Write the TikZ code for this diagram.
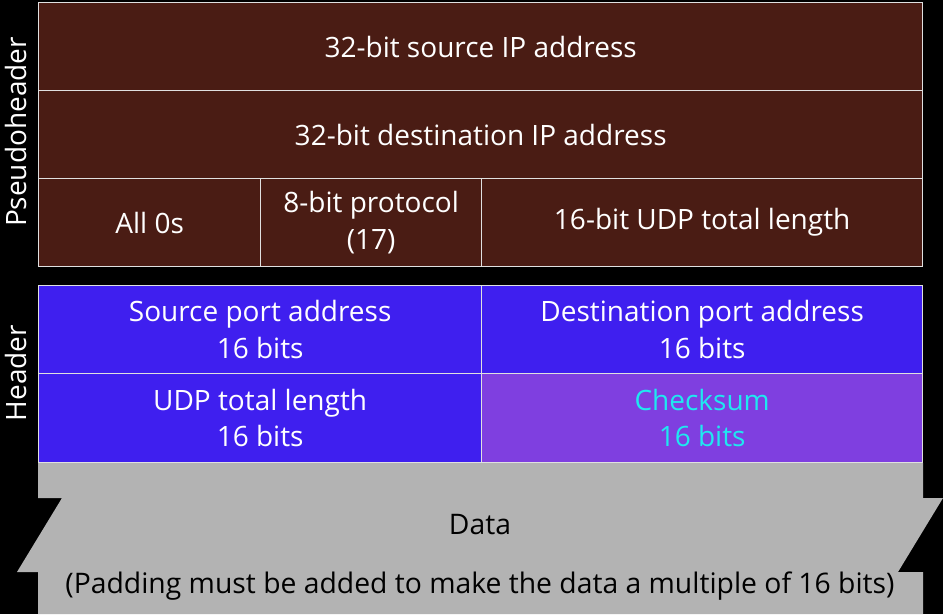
\documentclass[tikz,border=0pt]{standalone}
\usepackage{fontspec}
\setmainfont{Open Sans}
\definecolor{brownbg}{HTML}{4A1C14}
\definecolor{bluebg}{HTML}{3F1FEF}
\definecolor{purplebg}{HTML}{7F3FE0}
\definecolor{cyantext}{HTML}{1FE8F0}
\definecolor{graybg}{HTML}{B3B3B3}
\definecolor{edgecol}{HTML}{E0E0E0}
\tikzset{
  cell/.style={draw=edgecol, line width=1.3pt, anchor=north west, inner sep=0pt,
    align=center, text=white, font=\fontsize{28}{36.6}\selectfont},
  side/.style={rotate=90, text=white, inner sep=0pt, font=\fontsize{28}{30}\selectfont},
  datatext/.style={text=black, inner sep=0pt, font=\fontsize{28.3}{30}\selectfont}
}
\begin{document}
\begin{tikzpicture}[x=1pt,y=-1pt]
\fill[black] (0,0) rectangle (943,614);
\useasboundingbox (0,0) rectangle (943,614);
% data band
\fill[graybg] (38,463) -- (923,463) -- (923,498) -- (943,498) -- (898,572) -- (923,572)
  -- (923,614) -- (38,614) -- (38,572) -- (17,572) -- (62,498) -- (38,498) -- cycle;
% pseudoheader
\node[cell, fill=brownbg, minimum width=884pt, minimum height=88pt] (src) at (38,2) {32-bit source IP address};
\node[cell, fill=brownbg, minimum width=884pt, minimum height=88pt] (dst) at (38,90) {32-bit destination IP address};
\node[cell, fill=brownbg, minimum width=222pt, minimum height=88pt] (zeros) at (38,178) {All 0s};
\node[cell, fill=brownbg, minimum width=221pt, minimum height=88pt] (proto) at (260,178) {8-bit protocol\\(17)};
\node[cell, fill=brownbg, minimum width=441pt, minimum height=88pt] (plen) at (481,178) {16-bit UDP total length};
% header
\node[cell, fill=bluebg, minimum width=443pt, minimum height=88pt] (sport) at (38,285) {Source port address\\16 bits};
\node[cell, fill=bluebg, minimum width=441pt, minimum height=88pt] (dport) at (481,285) {Destination port address\\16 bits};
\node[cell, fill=bluebg, minimum width=443pt, minimum height=89pt] (ulen) at (38,373) {UDP total length\\16 bits};
\node[cell, fill=purplebg, text=cyantext, minimum width=441pt, minimum height=89pt] (csum) at (481,373) {Checksum\\16 bits};
% side labels
\node[side] (phlabel) at (16,132) {Pseudoheader};
\node[side] (hlabel) at (16,373) {Header};
% data texts
\node[datatext] (data) at (480,525) {Data};
\node[datatext] (pad) at (480,586) {(Padding must be added to make the data a multiple of 16 bits)};
\end{tikzpicture}
\end{document}
